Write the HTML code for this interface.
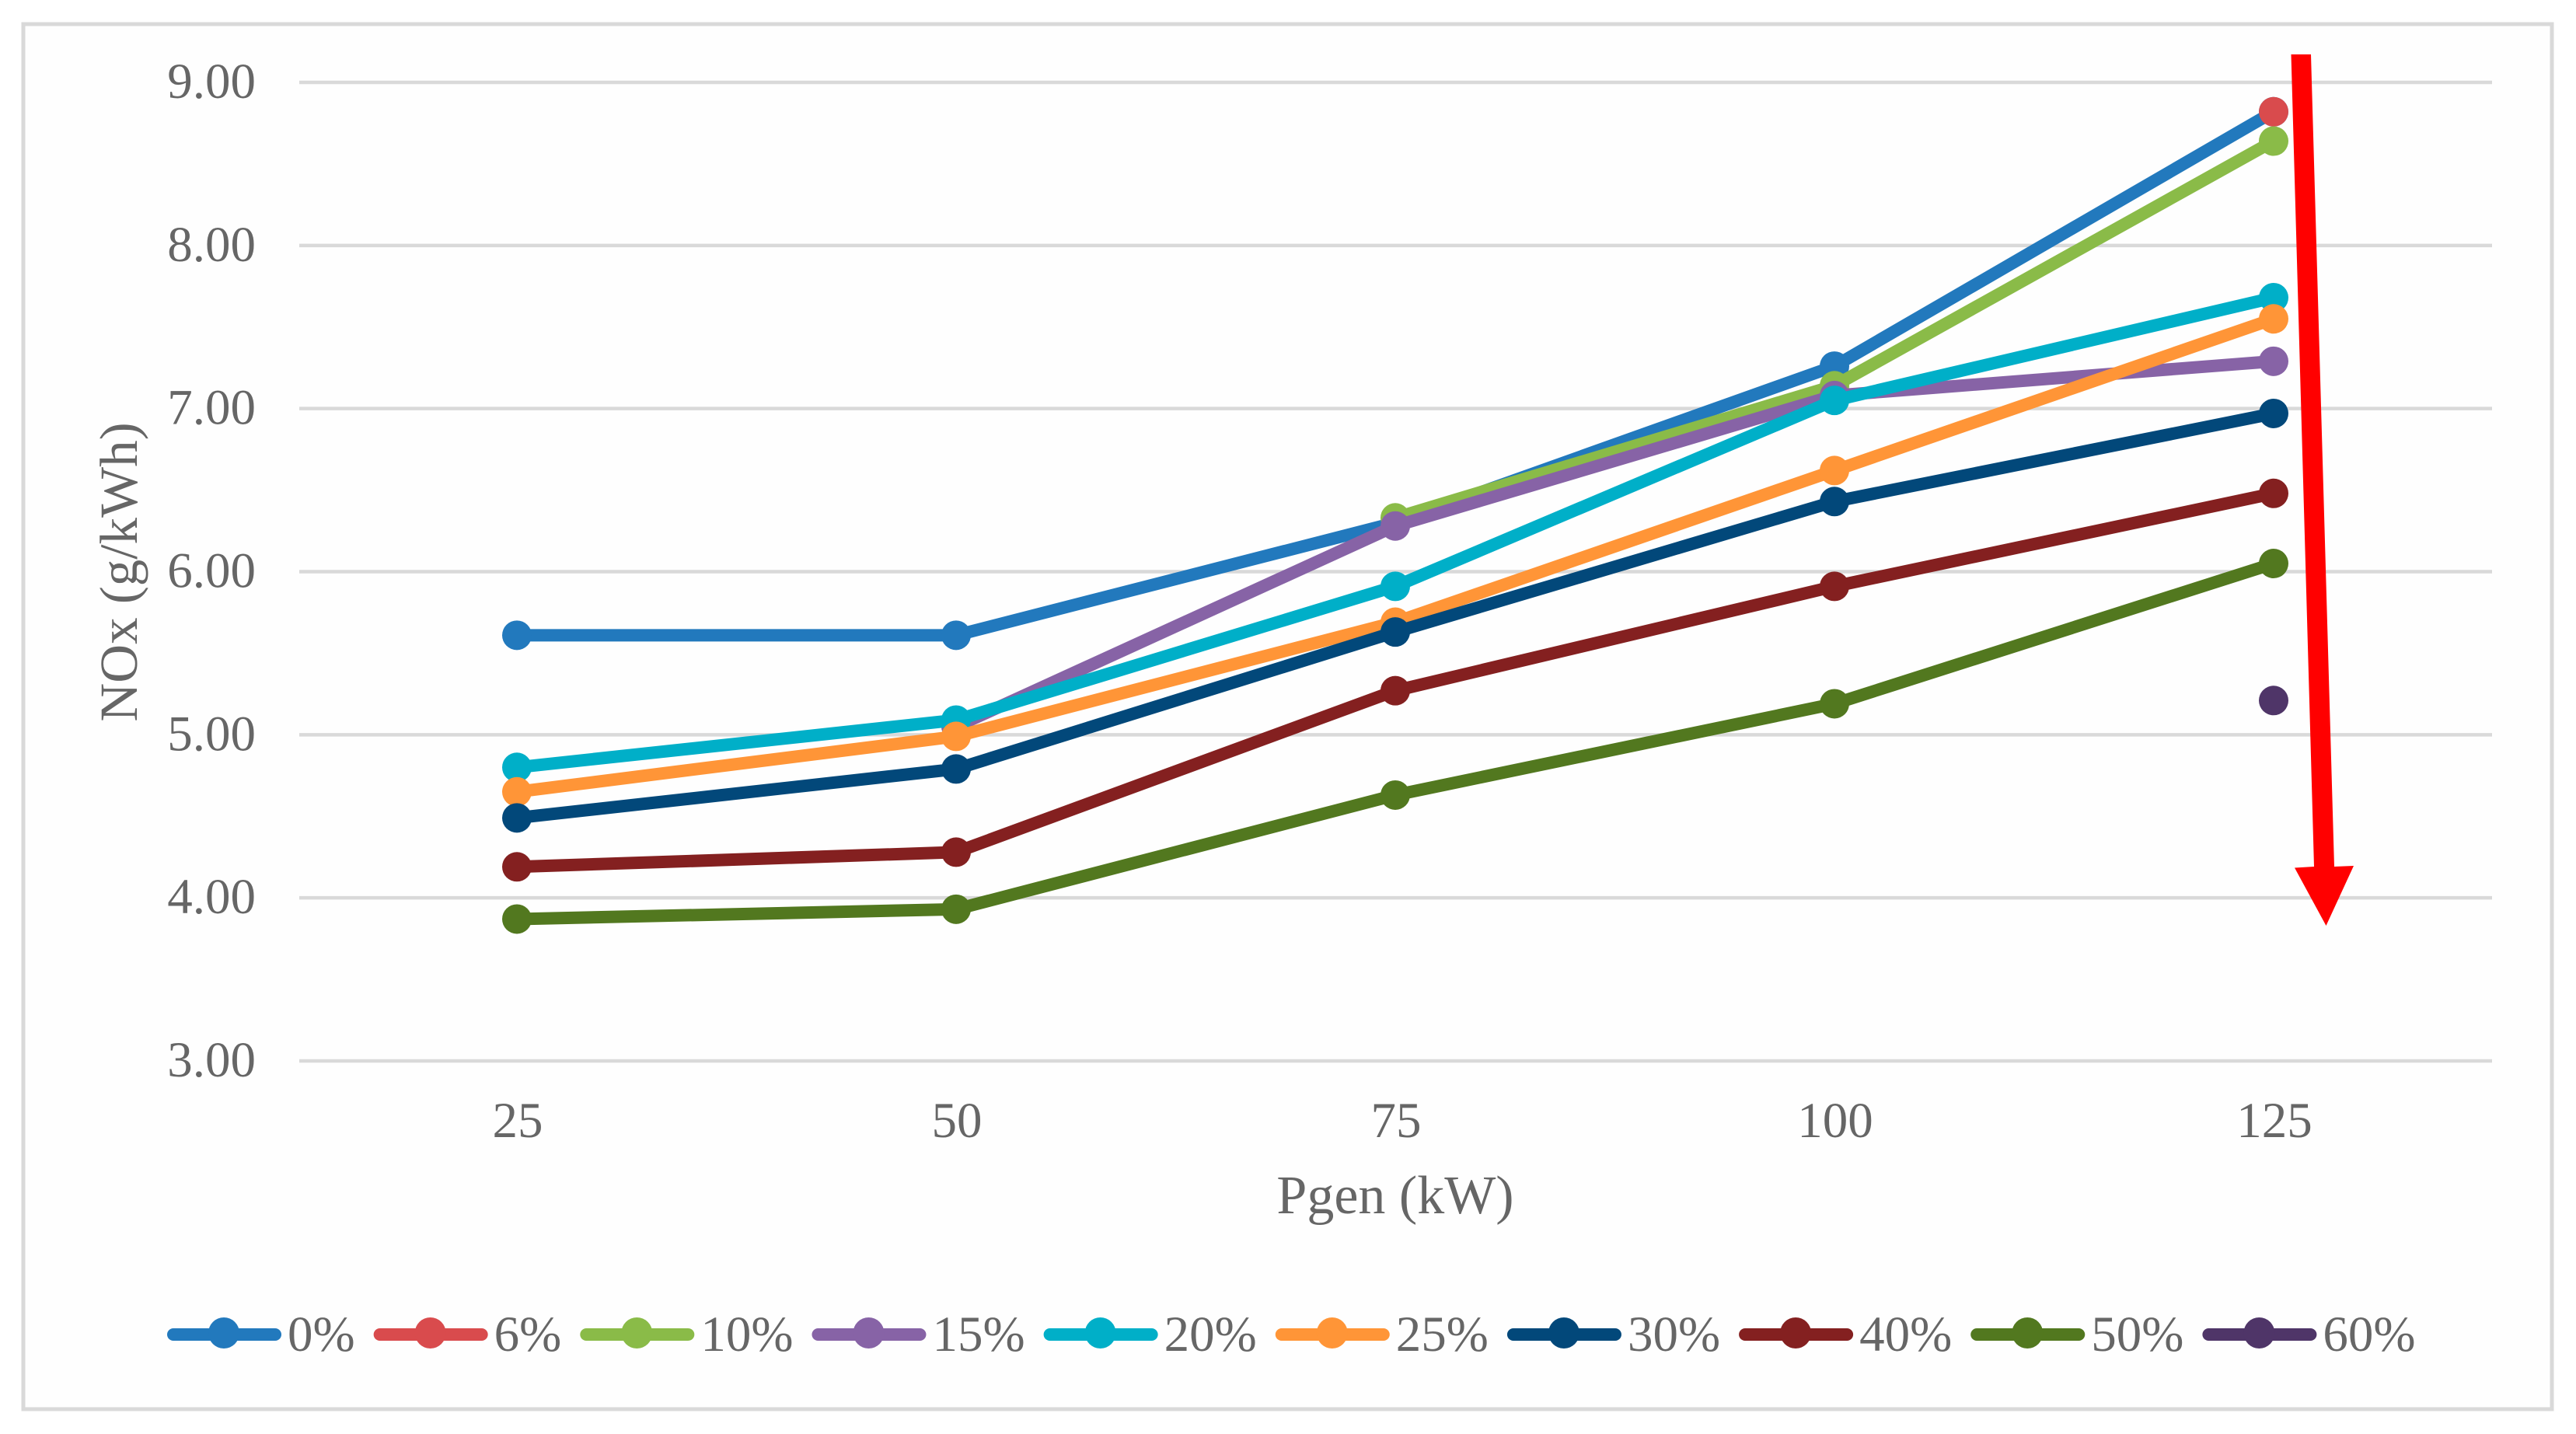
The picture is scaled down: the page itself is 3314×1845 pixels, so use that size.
<!DOCTYPE html>
<html lang="en">
<head>
<meta charset="utf-8">
<title>NOx vs Pgen chart</title>
<style>
  html, body { margin: 0; padding: 0; background: #ffffff; }
  body { width: 3314px; height: 1845px; overflow: hidden; }
  svg { display: block; }
  text { font-family: "Liberation Serif", serif; fill: #666666; }
</style>
</head>
<body>
<svg id="chart" xmlns="http://www.w3.org/2000/svg" width="3314" height="1845" viewBox="0 0 3314 1845">
  <rect x="30" y="31" width="3253" height="1782" fill="#fefefe" stroke="#d9d9d9" stroke-width="5"></rect>
  <g id="grid"></g>
  <g id="y-ticks"></g>
  <g id="x-ticks"></g>
  <text transform="translate(176,736) rotate(-90)" text-anchor="middle" font-size="69">NOx (g/kWh)</text>
  <text x="1795" y="1561" text-anchor="middle" font-size="70">Pgen (kW)</text>
  <g id="series"></g>
  <polygon fill="#ff0000" points="2947.5,70 2973,70 3003,1115 3028,1114 2992.5,1191 2952,1116.5 2977,1115"></polygon>
  <g id="legend"></g>
</svg>
<script>
// Chart data
const categories = [25, 50, 75, 100, 125];
const yTickLabels = ["3.00", "4.00", "5.00", "6.00", "7.00", "8.00", "9.00"];
const seriesNames = ["0%", "6%", "10%", "15%", "20%", "25%", "30%", "40%", "50%", "60%"];
const values0 = [5.61, 5.61, 6.30, 7.26, 8.82];
const values6 = [null, null, null, null, 8.82];
const values10 = [null, null, 6.33, 7.14, 8.64];
const values15 = [null, 5.05, 6.28, 7.08, 7.29];
const values20 = [4.80, 5.09, 5.91, 7.05, 7.68];
const values25 = [4.65, 4.99, 5.69, 6.62, 7.55];
const values30 = [4.49, 4.79, 5.63, 6.43, 6.97];
const values40 = [4.19, 4.28, 5.27, 5.91, 6.48];
const values50 = [3.87, 3.93, 4.63, 5.19, 6.05];
const values60 = [null, null, null, null, 5.21];
const allValues = [values0, values6, values10, values15, values20, values25, values30, values40, values50, values60];
const seriesColors = ["#2279bd", "#d94b4d", "#8abb48", "#8763a6", "#00afc8", "#ff9537", "#02487a", "#842020", "#52781f", "#4f3568"];

// Axis functions
const yMin = 3, yMax = 9, yTop = 106, yBottom = 1365;
const plotLeft = 385, plotRight = 3206, xFirst = 665, xStep = 565;
const NS = "http://www.w3.org/2000/svg";
function yScale(v) { return yBottom - (v - yMin) / (yMax - yMin) * (yBottom - yTop); }
function xScale(i) { return xFirst + i * xStep; }
function mk(tag, attrs, parent) {
  const el = document.createElementNS(NS, tag);
  for (const k in attrs) el.setAttribute(k, attrs[k]);
  parent.appendChild(el);
  return el;
}

// Gridlines and y ticks
const gridG = document.getElementById("grid");
const yG = document.getElementById("y-ticks");
yTickLabels.forEach(function (lab) {
  const v = parseFloat(lab);
  const line = mk("line", { x1: plotLeft, x2: plotRight, y1: yScale(v), y2: yScale(v), stroke: "#d9d9d9", "stroke-width": 4.5 }, gridG);
  
  
  const t = mk("text", { x: 329, y: yScale(v) + 20, "text-anchor": "end", "font-size": 65 }, yG);
  t.textContent = lab;
  
  
});

// X ticks
const xG = document.getElementById("x-ticks");
categories.forEach(function (c, i) {
  const t = mk("text", { x: xScale(i) + 1, y: 1463, "text-anchor": "middle", "font-size": 65 }, xG);
  t.textContent = String(c);
  
  
});

// Series
const seriesG = document.getElementById("series");
allValues.forEach(function (vals, s) {
  const g = mk("g", {}, seriesG);
  
  
  const pts = [];
  vals.forEach(function (v, i) {
    if (v !== null) pts.push(xScale(i) + "," + yScale(v));
  });
  if (pts.length > 1) {
    const line = mk("polyline", { points: pts.join(" "), fill: "none", stroke: seriesColors[s], "stroke-width": 16, "stroke-linejoin": "round", "stroke-linecap": "round" }, g);
    
    
  }
  vals.forEach(function (v, i) {
    if (v === null) return;
    const dot = mk("circle", { cx: xScale(i), cy: yScale(v), r: 19, fill: seriesColors[s] }, g);
    
    
  });
});

// Legend
const legendG = document.getElementById("legend");
let legendX = 215;
seriesNames.forEach(function (name, s) {
  const g = mk("g", {}, legendG);
  
  
  const swatch = mk("line", { x1: legendX + 8, x2: legendX + 139, y1: 1717, y2: 1717, stroke: seriesColors[s], "stroke-width": 16, "stroke-linecap": "round" }, g);
  
  
  const dot = mk("circle", { cx: legendX + 73, cy: 1715, r: 20, fill: seriesColors[s] }, g);
  
  
  const t = mk("text", { x: legendX + 155, y: 1738, "font-size": 65 }, g);
  t.textContent = name;
  
  
  legendX += 155 + t.getComputedTextLength() + 24;
});
</script>
</body>
</html>
